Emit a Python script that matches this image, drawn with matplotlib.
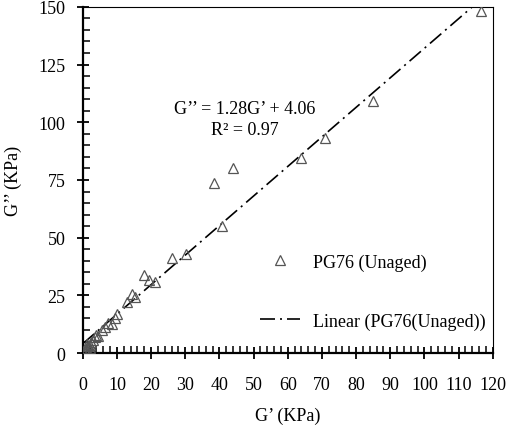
import numpy as np
import matplotlib.pyplot as plt
from matplotlib.ticker import MultipleLocator
from matplotlib.lines import Line2D

# G' and G'' values (KPa)
g_prime = [116.5, 85.0, 71.0, 63.8, 44.0, 38.5, 40.8, 30.3, 26.0, 17.8,
           19.5, 21.0, 14.3, 15.3, 13.0, 10.0, 9.5, 7.5, 6.5, 5.5,
           4.0, 3.5, 3.0, 2.5, 2.0, 1.5, 1.0, 0.8, 0.5, 4.5,
           8.5, 2.0, 1.2]
g_double = [148.0, 109.0, 93.0, 84.5, 80.0, 73.5, 55.0, 43.0, 41.0, 34.0,
            31.5, 31.0, 25.5, 24.5, 22.0, 17.0, 15.0, 13.0, 11.5, 10.0,
            8.0, 7.0, 5.5, 5.0, 3.5, 3.0, 2.0, 1.2, 0.8, 7.5,
            12.5, 2.0, 4.0]
slope = 1.28
intercept = 4.06

plt.rcParams['font.family'] = ['Liberation Serif', 'DejaVu Serif']
plt.rcParams['font.size'] = 13

fig = plt.figure(figsize=(5.08, 4.35), dpi=100)
ax = fig.add_axes([0.163, 0.186, 0.807, 0.796])

tri = dict(linestyle='none', marker='^', markersize=7.5, markerfacecolor='none',
           markeredgecolor='#555555', markeredgewidth=0.9)
dashdot = (0, (9, 3, 1.2, 3))

ax.plot(g_prime, g_double, zorder=3, **tri)

fx = np.array([0, (150 - intercept) / slope])
ax.plot(fx, slope * fx + intercept, color='black', lw=1.2,
        linestyle=dashdot, zorder=2)

ax.set_xlim(0, 120)
ax.set_ylim(0, 150)
ax.xaxis.set_major_locator(MultipleLocator(10))
ax.xaxis.set_minor_locator(MultipleLocator(2))
ax.yaxis.set_major_locator(MultipleLocator(25))
ax.yaxis.set_minor_locator(MultipleLocator(5))
ax.tick_params(which='major', direction='inout', length=9, width=1.3)
ax.tick_params(which='minor', direction='in', length=5, width=1.1)
ax.tick_params(axis='x', which='major', pad=12)
ax.tick_params(axis='y', which='major', pad=8)

for s in ['left', 'bottom']:
    ax.spines[s].set_linewidth(1.6)
for s in ['top', 'right']:
    ax.spines[s].set_linewidth(0.8)

ax.set_xlabel('G’ (KPa)', labelpad=10)
ax.set_ylabel('G’’ (KPa)', labelpad=12)

ax.text(47.5, 106, 'G’’ = 1.28G’ + 4.06', ha='center', va='center')
ax.text(47.5, 97, 'R² = 0.97', ha='center', va='center')

h1 = Line2D([], [], **tri)
h2 = Line2D([], [], color='black', lw=1.2, linestyle=dashdot)
ax.legend([h1, h2], ['PG76 (Unaged)', 'Linear (PG76(Unaged))'],
          loc='center left', bbox_to_anchor=(0.393, 0.178), frameon=False,
          handlelength=2.2, handletextpad=0.72, labelspacing=2.3)

fig.savefig('out.png', dpi=100)
